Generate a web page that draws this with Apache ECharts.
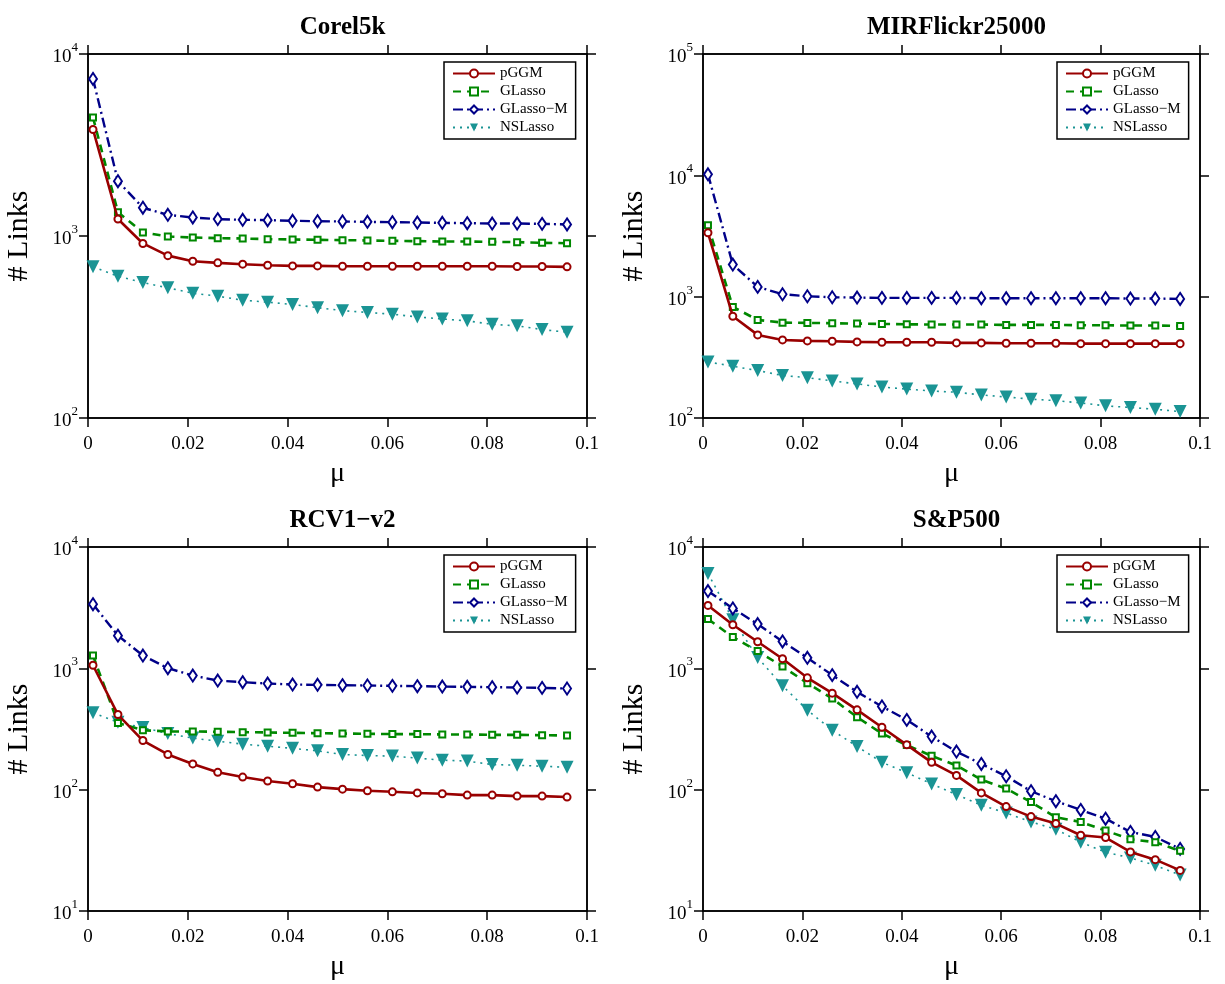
<!DOCTYPE html>
<html>
<head>
<meta charset="utf-8">
<script src="https://cdn.jsdelivr.net/npm/echarts@6/dist/echarts.min.js"></script>
<style>html,body{margin:0;padding:0;background:#fff}#c{width:1225px;height:984px}</style>
</head>
<body>
<div id="c"></div>
<script>
var mu = [0.001,0.006,0.011,0.016,0.021,0.026,0.031,0.036,0.041,0.046,0.051,0.056,0.061,0.066,0.071,0.076,0.081,0.086,0.091,0.096];
var seriesNames = ['pGGM','GLasso','GLasso\u2212M','NSLasso'];
var titles = ['Corel5k','MIRFlickr25000','RCV1\u2212v2','S&P500'];
var yMin = [100, 100, 10, 10];
var yMax = [10000, 100000, 10000, 10000];

var corelPGGM   = [3850,1240,910,780,727,712,700,691,685,685,682,682,682,682,682,682,682,680,680,677];
var corelGLasso = [4480,1350,1045,994,981,973,969,961,957,953,949,945,941,937,933,933,929,925,917,913];
var corelGLassoM= [7300,2000,1430,1307,1264,1238,1227,1222,1212,1206,1202,1196,1191,1186,1181,1176,1171,1171,1166,1157];
var corelNSLasso= [677,601,555,519,485,467,444,433,420,404,389,380,372,359,350,342,327,321,306,296];

var mirPGGM   = [3360,690,484,440,432,429,424,421,421,421,416,416,413,413,413,410,410,410,410,410];
var mirGLasso = [3880,823,643,611,608,604,600,596,592,589,589,589,585,585,585,581,581,578,578,574];
var mirGLassoM= [10200,1840,1204,1047,1008,989,983,977,977,977,977,971,971,971,971,971,971,965,965,958];
var mirNSLasso= [290,267,246,224,215,202,191,180,173,167,163,155,149,143,139,133,126,122,118,113];

var rcvPGGM   = [1060,416,254,195,163,139,127,118,112,105,101,98,96,94,92.5,90.2,90.2,88.5,88.5,86.9];
var rcvGLasso = [1275,355,309,302,302,300,298,296,294,292,290,289,287,287,285,285,283,283,281,280];
var rcvGLassoM= [3375,1860,1275,1003,872,793,769,749,735,731,726,722,717,713,708,704,699,695,690,682];
var rcvNSLasso= [430,360,325,290,266,251,237,228,219,209,195,191,189,182,175,172,161,159,156,153];

var spPGGM   = [3300,2286,1655,1199,835,624,455,327,234,168,131,94,72.5,60,52.5,42.1,40.3,30.7,26.5,21.6];
var spGLasso = [2546,1809,1387,1036,755,564,396,290,233,190,158,121,102,79,59.2,54.2,46,39,36.9,31.3];
var spGLassoM= [4333,3118,2315,1666,1222,879,640,485,376,274,206,163,129,97.1,80.3,68.1,57.7,44.8,40.8,32.5];
var spNSLasso= [6060,2514,1229,718,452,309,227,168,138,111.6,91.1,74.4,64.3,54.2,47.2,36.9,30.5,27.4,23.8,19.8];

var panels = [
  [corelPGGM, corelGLasso, corelGLassoM, corelNSLasso],
  [mirPGGM, mirGLasso, mirGLassoM, mirNSLasso],
  [rcvPGGM, rcvGLasso, rcvGLassoM, rcvNSLasso],
  [spPGGM, spGLasso, spGLassoM, spNSLasso]
];

var SERIF = '"Liberation Serif","DejaVu Serif",serif';
var styles = [
  {color:'#990000', symbol:'emptyCircle', symbolSize:7, lineType:'solid', width:2.6, symbolRotate:0, bw:2},
  {color:'#008800', symbol:'emptyRect', symbolSize:6, lineType:[8,6], width:2.6, symbolRotate:0, bw:2.6},
  {color:'#000088', symbol:'emptyDiamond', symbolSize:[8,12], lineType:[10,4,2,4], width:2.4, symbolRotate:0, bw:2.2},
  {color:'#1a9494', symbol:'triangle', symbolSize:13, lineType:[2,5], width:1.6, symbolRotate:180, bw:0}
];

var grids = [
  {left:88, top:54, width:499, height:364},
  {left:703, top:54, width:497, height:364},
  {left:88, top:547, width:499, height:364},
  {left:703, top:547, width:497, height:364}
];

var option = {
  backgroundColor:'#fff',
  animation:false,
  title:[], grid:[], xAxis:[], yAxis:[], series:[], legend:[]
};

function supFmt(v){
  var e = Math.round(Math.log(v)/Math.LN10);
  return '{b|10}{s|' + e + '}';
}

for (var p=0;p<4;p++){
  var g = grids[p];
  option.grid.push({left:g.left, top:g.top, width:g.width, height:g.height, show:true, borderColor:'#000', borderWidth:1.5, backgroundColor:'#fff'});
  option.title.push({text:titles[p], left:g.left + g.width/2, top:g.top-44, textAlign:'center',
    textStyle:{fontFamily:SERIF, fontWeight:'bold', fontSize:25, color:'#000'}});
  var tickStyle = {show:true, inside:false, length:9, lineStyle:{color:'#000', width:1.5}};
  option.xAxis.push({type:'value', gridIndex:p, min:0, max:0.1, interval:0.02, position:'bottom',
    axisLine:{show:true, onZero:false, lineStyle:{color:'#000', width:1.5}},
    axisTick:tickStyle, splitLine:{show:false},
    axisLabel:{fontFamily:SERIF, fontSize:19, color:'#000', margin:17,
      formatter:function(v){ return v===0 ? '0' : String(Math.round(v*100)/100); }},
    name:'\u03bc', nameLocation:'middle', nameGap:42,
    nameTextStyle:{fontFamily:SERIF, fontSize:28, color:'#000'}});
  option.xAxis.push({type:'value', gridIndex:p, min:0, max:0.1, interval:0.02, position:'top',
    axisLine:{show:true, onZero:false, lineStyle:{color:'#000', width:1.5}},
    axisTick:tickStyle, splitLine:{show:false}, axisLabel:{show:false}});
  option.yAxis.push({type:'log', logBase:10, gridIndex:p, min:yMin[p], max:yMax[p], interval:1, position:'left',
    axisLine:{show:true, onZero:false, lineStyle:{color:'#000', width:1.5}},
    axisTick:tickStyle, minorTick:{show:false}, splitLine:{show:false},
    axisLabel:{color:'#000', margin:10, formatter:supFmt,
      rich:{b:{fontFamily:SERIF, fontSize:19, lineHeight:26, verticalAlign:'bottom', color:'#000'},
            s:{fontFamily:SERIF, fontSize:13, lineHeight:14, verticalAlign:'top', color:'#000'}}},
    name:'# Links', nameLocation:'middle', nameGap:54, nameRotate:90,
    nameTextStyle:{fontFamily:SERIF, fontSize:30, color:'#000'}});
  option.yAxis.push({type:'log', logBase:10, gridIndex:p, min:yMin[p], max:yMax[p], interval:1, position:'right',
    axisLine:{show:true, onZero:false, lineStyle:{color:'#000', width:1.5}},
    axisTick:tickStyle, minorTick:{show:false}, splitLine:{show:false}, axisLabel:{show:false}});

  for (var s=0;s<4;s++){
    var st = styles[s];
    var data = [];
    for (var i=0;i<mu.length;i++) data.push([mu[i], panels[p][s][i]]);
    option.series.push({
      name:seriesNames[s], type:'line', xAxisIndex:2*p, yAxisIndex:2*p, data:data,
      symbol:st.symbol, symbolSize:st.symbolSize, symbolRotate:st.symbolRotate, showAllSymbol:true,
      color:st.color,
      lineStyle:{color:st.color, width:st.width, type:st.lineType},
      itemStyle:{color:st.color, borderColor:st.color, borderWidth:st.bw},
      z: 10 - s
    });
  }
  option.legend.push({
    data:seriesNames, orient:'vertical', left:g.left + g.width - 143, top:g.top + 8,
    backgroundColor:'#fff', borderColor:'#000', borderWidth:1.5, padding:[4,8,4,8],
    itemWidth:42, itemHeight:10, itemGap:3, selectedMode:false,
    textStyle:{fontFamily:SERIF, fontSize:15, color:'#000'}
  });
}

var chart = echarts.init(document.getElementById('c'), null, {renderer:'canvas'});
chart.setOption(option);
</script>
</body>
</html>
